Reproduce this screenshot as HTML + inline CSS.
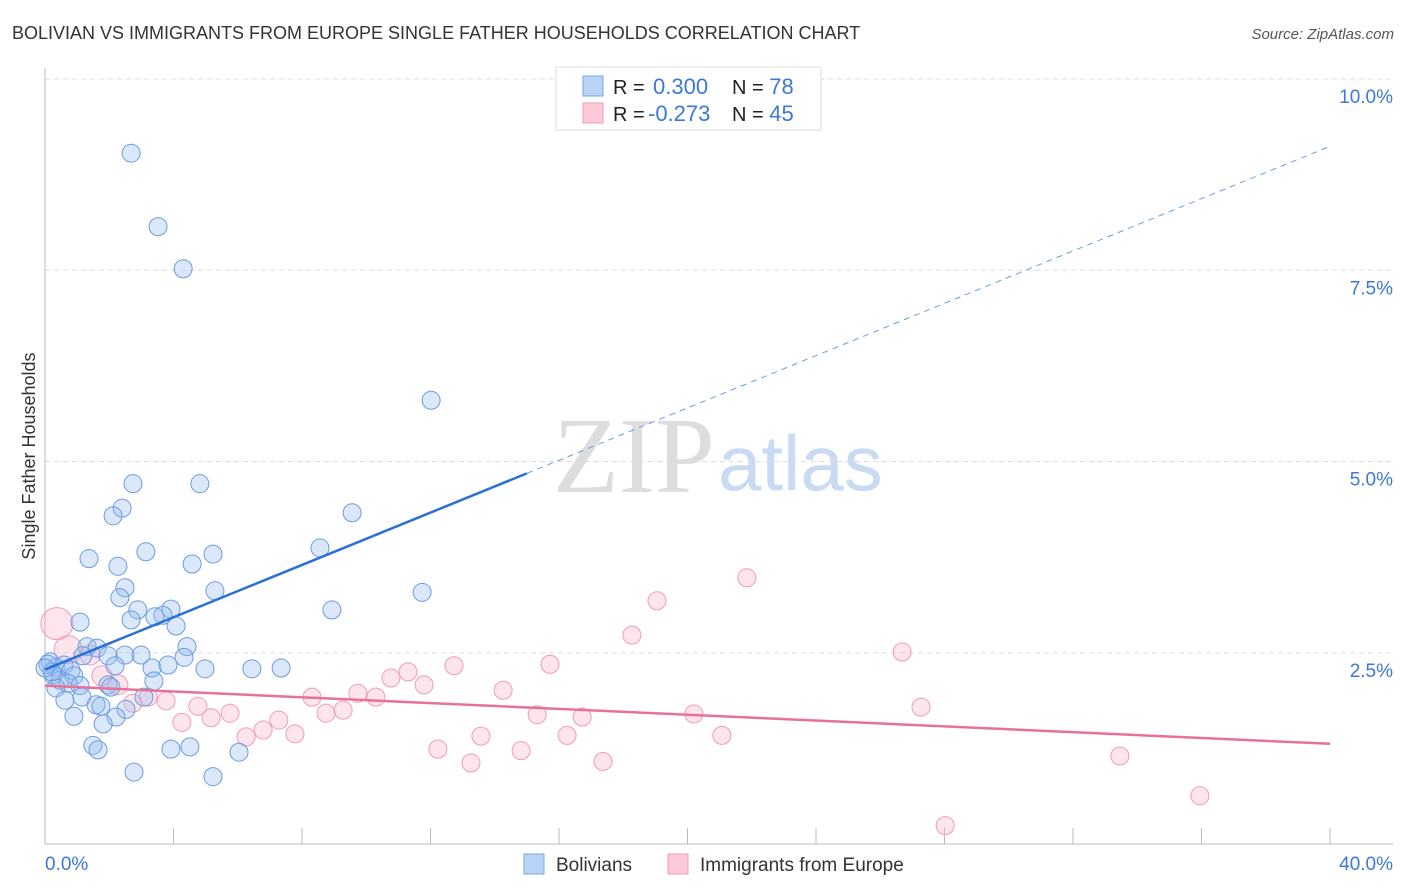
<!DOCTYPE html>
<html><head><meta charset="utf-8"><style>
body{margin:0;background:#fff;font-family:"Liberation Sans",sans-serif;}
#wrap{position:relative;width:1406px;height:892px;overflow:hidden;}
</style></head><body>
<div id="wrap">
<svg id="svg" width="1406" height="892">
<text x="12" y="39" font-size="18" fill="#333">BOLIVIAN VS IMMIGRANTS FROM EUROPE SINGLE FATHER HOUSEHOLDS CORRELATION CHART</text>
<text x="1394" y="39" font-size="15" fill="#555" font-style="italic" text-anchor="end">Source: ZipAtlas.com</text>
<text x="35" y="456" font-size="18" fill="#333" text-anchor="middle" transform="rotate(-90 35 456)">Single Father Households</text>
<text x="553" y="492" font-size="108" fill="#ddd" font-family="Liberation Serif, serif">ZIP</text>
<text x="718" y="490" font-size="78" fill="#c9daf3">atlas</text>
<g id="grid"></g><g id="axes"></g><g id="pts"></g><g id="lines"></g>
<g>
<rect x="556" y="67" width="265" height="63" fill="#fff" stroke="#ddd"/>
<rect x="583" y="76" width="20" height="20" fill="#b9d3f5" stroke="#7aa6e6"/>
<rect x="583" y="103" width="20" height="20" fill="#fbc9d8" stroke="#f29ab5"/>
<text x="613" y="94" font-size="20" fill="#222">R = <tspan fill="#3b78d8" x="653" font-size="22">0.300</tspan><tspan fill="#222" x="732">N = </tspan><tspan fill="#3b78d8" font-size="22">78</tspan></text>
<text x="613" y="121" font-size="20" fill="#222">R = <tspan fill="#3b78d8" x="648" font-size="22">-0.273</tspan><tspan fill="#222" x="732">N = </tspan><tspan fill="#3b78d8" font-size="22">45</tspan></text>
</g>
<g>
<rect x="524" y="854" width="20" height="20" fill="#b9d3f5" stroke="#7aa6e6"/>
<text x="556" y="871" font-size="19" fill="#333">Bolivians</text>
<rect x="668" y="854" width="20" height="20" fill="#fbc9d8" stroke="#f29ab5"/>
<text x="700" y="871" font-size="19" fill="#333">Immigrants from Europe</text>
</g>
</svg></div>
<script>
const blueX=[2.68,3.52,4.30,12.02,2.74,4.82,2.40,2.12,9.56,3.14,5.23,1.37,8.56,2.27,4.58,2.49,5.29,11.74,2.33,2.89,8.93,3.92,1.09,2.68,3.67,3.42,4.08,1.31,1.62,4.42,2.49,2.99,1.18,1.96,4.33,2.18,3.33,3.83,4.98,6.44,7.35,0.16,0.34,0.59,0.81,0.25,0.47,0.90,0.72,0.34,1.96,3.39,2.05,1.09,0.62,1.15,1.59,1.74,3.08,2.52,2.21,1.81,0.90,1.49,1.65,3.92,4.51,6.04,2.77,5.23,0.09,0.22,0.0];
const blueY=[9.03,8.07,7.52,5.80,4.71,4.71,4.39,4.29,4.33,3.82,3.79,3.73,3.87,3.63,3.66,3.35,3.31,3.29,3.22,3.06,3.06,3.07,2.90,2.93,2.99,2.97,2.85,2.58,2.56,2.58,2.47,2.47,2.46,2.46,2.44,2.33,2.30,2.34,2.29,2.29,2.30,2.38,2.31,2.34,2.27,2.21,2.14,2.20,2.10,2.04,2.08,2.13,2.05,2.07,1.88,1.92,1.82,1.80,1.92,1.76,1.66,1.57,1.67,1.29,1.23,1.24,1.27,1.20,0.94,0.88,2.35,2.25,2.30];
const pinkX=[0.37,0.72,1.40,1.77,2.27,2.74,3.21,3.77,4.26,4.76,5.17,5.76,6.26,6.79,7.28,7.78,8.31,8.75,9.28,9.74,10.30,10.77,11.30,11.80,12.23,12.73,13.26,13.57,14.26,14.82,15.32,15.72,16.25,16.72,17.37,18.27,19.05,20.20,21.07,21.85,26.68,27.27,28.02,33.46,35.95];
const pinkY=[2.88,2.54,2.47,2.20,2.08,1.84,1.92,1.87,1.59,1.80,1.65,1.71,1.40,1.49,1.62,1.44,1.92,1.71,1.75,1.97,1.92,2.17,2.25,2.08,1.24,2.33,1.06,1.41,2.01,1.22,1.69,2.35,1.42,1.66,1.08,2.73,3.18,1.70,1.42,3.48,2.51,1.79,0.24,1.15,0.63];
const pinkR=[16,14,10,10,10,9,9,9,9,9,9,9,9,9,9,9,9,9,9,9,9,9,9,9,9,9,9,9,9,9,9,9,9,9,9,9,9,9,9,9,9,9,9,9,9];
const yTicks=[2.5,5.0,7.5,10.0];
const blueTrend=[2.28,0.171];
const pinkTrend=[2.07,-0.019];
const NS="http://www.w3.org/2000/svg";
const xs=v=>45+v*32.125, ys=v=>844-v*76.5;
function mk(tag,attrs,parent){const e=document.createElementNS(NS,tag);for(const k in attrs)e.setAttribute(k,attrs[k]);document.getElementById(parent).appendChild(e);return e;}
yTicks.forEach(t=>{
 const l=mk('line',{x1:45,x2:1393,y1:ys(t),y2:ys(t),stroke:'#ddd','stroke-dasharray':'5,4'},'grid');
 
 
 const tx=mk('text',{x:1393,y:ys(t)+24,'font-size':19,fill:'#3b78d8','text-anchor':'end'},'grid');
 tx.textContent=t.toFixed(1)+'%';
 
 
});
mk('line',{x1:45,x2:45,y1:68,y2:844,stroke:'#bbb'},'axes');
mk('line',{x1:45,x2:1393,y1:844,y2:844,stroke:'#bbb'},'axes');
for(let i=1;i<=10;i++){mk('line',{x1:xs(i*4),x2:xs(i*4),y1:828,y2:844,stroke:'#bbb'},'axes');}
let t0=mk('text',{x:45,y:870,'font-size':19,fill:'#3b78d8'},'axes');t0.textContent='0.0%';


let t1=mk('text',{x:1393,y:870,'font-size':19,fill:'#3b78d8','text-anchor':'end'},'axes');t1.textContent='40.0%';


pinkX.forEach((x,i)=>{const c=mk('circle',{cx:xs(x),cy:ys(pinkY[i]),r:pinkR[i],fill:'rgba(248,170,195,0.3)',stroke:'#f29ab5','stroke-width':1},'pts');
 
 });
blueX.forEach((x,i)=>{const c=mk('circle',{cx:xs(x),cy:ys(blueY[i]),r:9,fill:'rgba(150,190,240,0.35)',stroke:'#6b9be0','stroke-width':1},'pts');
 
 });
const bl=mk('line',{x1:xs(0),y1:ys(blueTrend[0]),x2:xs(15),y2:ys(blueTrend[0]+15*blueTrend[1]),stroke:'#2a6fd6','stroke-width':2.5},'lines');


const bd=mk('line',{x1:xs(15),y1:ys(blueTrend[0]+15*blueTrend[1]),x2:xs(40),y2:ys(blueTrend[0]+40*blueTrend[1]),stroke:'#6a9de0','stroke-width':1,'stroke-dasharray':'6,5'},'lines');


const pl=mk('line',{x1:xs(0),y1:ys(pinkTrend[0]),x2:xs(40),y2:ys(pinkTrend[0]+40*pinkTrend[1]),stroke:'#e8719a','stroke-width':2.5},'lines');


</script>
</body></html>
